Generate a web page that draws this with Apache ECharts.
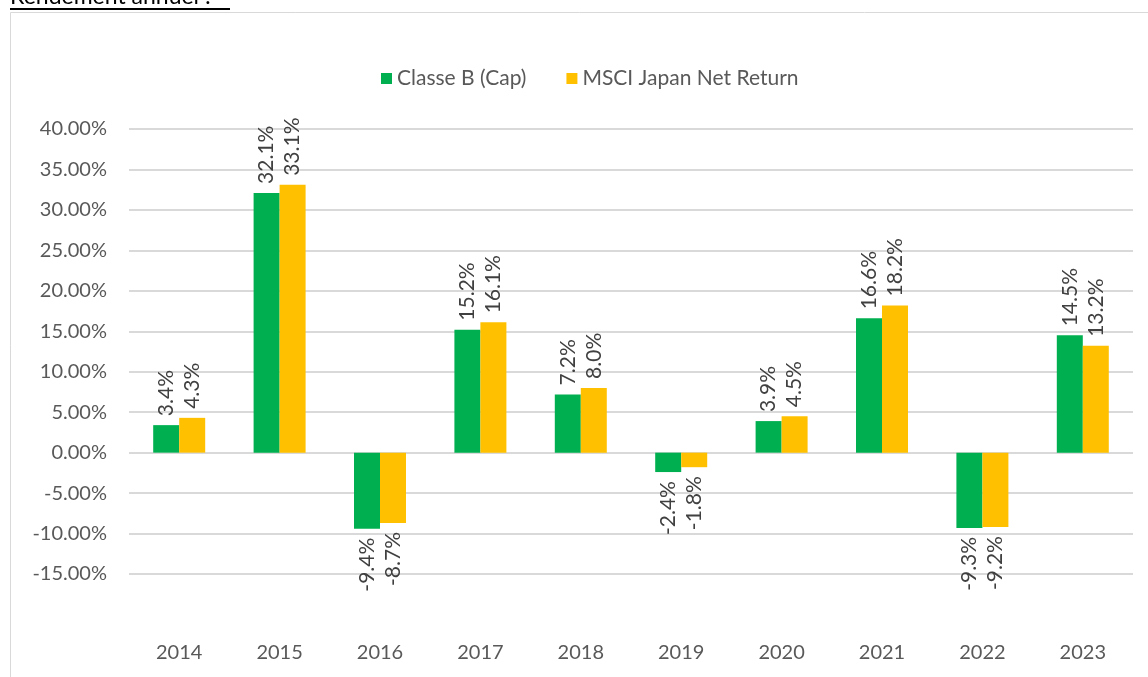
<!DOCTYPE html>
<html>
<head>
<meta charset="utf-8">
<script src="https://cdn.jsdelivr.net/npm/echarts@6/dist/echarts.min.js"></script>
<style>
  html, body { margin: 0; padding: 0; background: #fff; }
  #chart { width: 1148px; height: 677px; }
</style>
</head>
<body>
<div id="chart"></div>
<script>
const years = ['2014', '2015', '2016', '2017', '2018', '2019', '2020', '2021', '2022', '2023']
const classeB = [3.4, 32.1, -9.4, 15.2, 7.2, -2.4, 3.9, 16.6, -9.3, 14.5]
const msciJapan = [4.3, 33.1, -8.7, 16.1, 8.0, -1.8, 4.5, 18.2, -9.2, 13.2]
const seriesNames = ['Classe B (Cap)', 'MSCI Japan Net Return']

const font = 'Lato, "Noto Sans", sans-serif'

// labels sit above positive bars and below negative ones
function withLabels(values) {
  return values.map(v => ({
    value: v,
    label: v >= 0
      ? { position: 'top', align: 'left', verticalAlign: 'middle' }
      : { position: 'bottom', align: 'right', verticalAlign: 'middle' }
  }))
}

function barSeries(name, values, color) {
  return {
    name: name,
    type: 'bar',
    barWidth: 26,
    barGap: '0%',
    itemStyle: { color: color },
    label: {
      show: true,
      rotate: 90,
      distance: 9,
      fontFamily: font,
      fontSize: 21,
      color: '#404040',
      formatter: p => p.value.toFixed(1) + '%'
    },
    data: withLabels(values)
  }
}

const chart = echarts.init(document.getElementById('chart'))
chart.setOption({
  animation: false,
  backgroundColor: '#fff',
  graphic: [
    {
      type: 'rect',
      shape: { x: 10.5, y: 12.5, width: 1200, height: 700 },
      style: { fill: 'none', stroke: '#d9d9d9', lineWidth: 1 }
    },
    {
      type: 'text',
      left: 10,
      top: -15,
      style: { text: 'Rendement annuel :', font: '23px ' + font, fill: '#000' }
    },
    {
      type: 'rect',
      shape: { x: 10, y: 8, width: 220, height: 2 },
      style: { fill: '#000' }
    }
  ],
  legend: {
    top: 63,
    left: 376,
    itemWidth: 11,
    itemHeight: 11,
    itemGap: 40,
    icon: 'rect',
    textStyle: { fontFamily: font, fontSize: 21, color: '#595959' },
    data: seriesNames
  },
  grid: {
    left: 129,
    right: 15,
    top: 129,
    bottom: 103
  },
  xAxis: {
    type: 'category',
    data: years,
    axisLine: { show: false },
    axisTick: { show: false },
    axisLabel: {
      margin: 69,
      fontFamily: font,
      fontSize: 20,
      color: '#595959'
    }
  },
  yAxis: {
    type: 'value',
    min: -15,
    max: 40,
    interval: 5,
    axisLine: { show: false },
    axisTick: { show: false },
    splitLine: { lineStyle: { color: '#d9d9d9', width: 2 } },
    axisLabel: {
      margin: 22,
      fontFamily: font,
      fontSize: 20,
      color: '#595959',
      formatter: v => v.toFixed(2) + '%'
    }
  },
  series: [
    barSeries(seriesNames[0], classeB, '#00b050'),
    barSeries(seriesNames[1], msciJapan, '#ffc000')
  ]
})
</script>
</body>
</html>
